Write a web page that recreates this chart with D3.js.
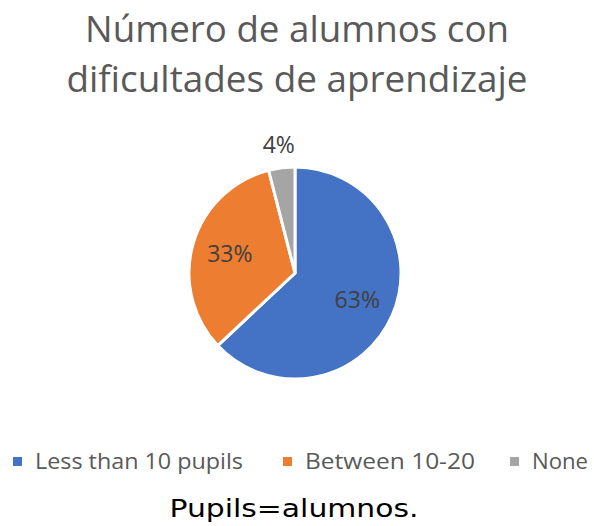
<!DOCTYPE html>
<html>
<head>
<meta charset="utf-8">
<script src="https://cdn.jsdelivr.net/npm/d3@7"></script>
<style>
  body { margin: 0; background: #fff; }
  svg { display: block; }
</style>
</head>
<body>
<div id="chart"></div>
<script>
// data
const categories = ["Less than 10 pupils", "Between 10-20", "None"];
const shares = [63, 33, 4];
const colors = ["#4472C4", "#ED7D31", "#A5A5A5"];
const titleLines = ["Número de alumnos con", "dificultades de aprendizaje"];
const caption = "Pupils=alumnos.";

const width = 594, height = 526;
const radius = 106;
const cx = 295, cy = 273;

let svg = d3.select("#chart")
    .append("svg")
    .attr("width", width)
    .attr("height", height);

// title (two lines, matched to the widths in the picture)
const titleWidths = [424, 461];
svg.append("g").selectAll("text")
    .data(titleLines)
    .enter()
    .append("text")
    .attr("x", width / 2)
    .attr("y", (d, i) => 42 + i * 50)
    .attr("textLength", (d, i) => titleWidths[i])
    .attr("lengthAdjust", "spacingAndGlyphs")
    .style("text-anchor", "middle")
    .style("font-family", "Open Sans, sans-serif")
    .style("font-size", "36px")
    .style("fill", "#595959")
    .text(d => d);

let pie = d3.pie()
    .value(d => d.value)
    .sort(null);

let data = categories.map((c, i) => ({key: c, value: shares[i], color: colors[i]}));
let arcs = pie(data);

let arcGen = d3.arc().innerRadius(0).outerRadius(radius);

let pieG = svg.append("g")
    .attr("transform", `translate(${cx}, ${cy})`);

pieG.selectAll("path")
    .data(arcs)
    .enter()
    .append("path")
    .attr("d", arcGen)
    .attr("fill", d => d.data.color)
    .attr("stroke", "white")
    .style("stroke-width", "3px");

// labels: inside for big slices, outside for the small one
let inner = d3.arc().innerRadius(radius * 0.64).outerRadius(radius * 0.64);
let outer = d3.arc().innerRadius(radius * 1.22).outerRadius(radius * 1.22);

pieG.selectAll(".lbl")
    .data(arcs)
    .enter()
    .append("text")
    .attr("class", "lbl")
    .attr("transform", d => {
        let p = (d.data.value < 10 ? outer : inner).centroid(d);
        return `translate(${p[0]}, ${p[1]})`;
    })
    .attr("dy", "0.35em")
    .style("text-anchor", "middle")
    .style("font-family", "Open Sans, sans-serif")
    .style("font-size", "23px")
    .style("fill", "#404040")
    .text(d => d.data.value + "%");

// legend
const legendX = [13, 283, 510];
const legendW = [208, 170, 56];
let legend = svg.append("g").selectAll("g")
    .data(data)
    .enter()
    .append("g")
    .attr("transform", (d, i) => `translate(${legendX[i]}, 462)`);

legend.append("rect")
    .attr("x", 0)
    .attr("y", -5)
    .attr("width", 9)
    .attr("height", 9)
    .attr("fill", d => d.color);

legend.append("text")
    .attr("x", 22)
    .attr("y", 7)
    .attr("textLength", (d, i) => legendW[i])
    .attr("lengthAdjust", "spacingAndGlyphs")
    .style("font-family", "Open Sans, sans-serif")
    .style("font-size", "22px")
    .style("fill", "#595959")
    .text(d => d.key);

svg.append("text")
    .attr("x", 294)
    .attr("y", 517)
    .attr("textLength", 249)
    .attr("lengthAdjust", "spacingAndGlyphs")
    .style("text-anchor", "middle")
    .style("font-family", "DejaVu Sans, sans-serif")
    .style("font-size", "25px")
    .style("fill", "#000")
    .text(caption);
</script>
</body>
</html>
